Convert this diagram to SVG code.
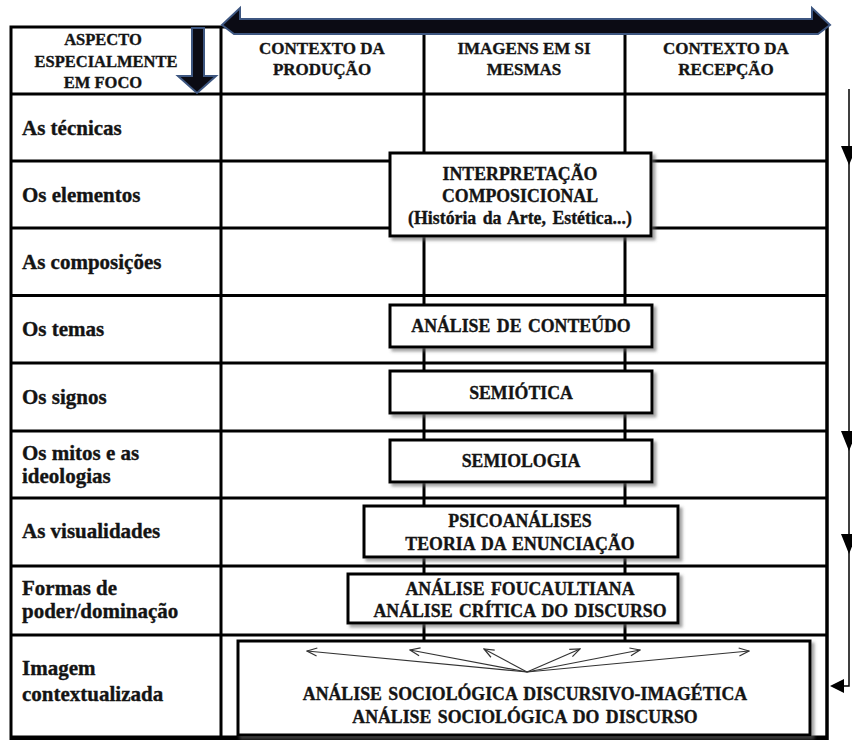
<svg xmlns="http://www.w3.org/2000/svg" width="852" height="740" viewBox="0 0 852 740">
<style>
text{font-family:"Liberation Serif","Times New Roman",serif;font-weight:bold;fill:#141414;stroke:#141414;stroke-width:0.35}
.hd{font-size:16.5px;text-anchor:middle}
.ch{font-size:17px;text-anchor:middle}
.rl{font-size:21px}
.bx{font-size:17.8px;text-anchor:middle;word-spacing:2px}
.grid{stroke:#000;stroke-width:3;fill:none}
.box{fill:#fff;stroke:#000;stroke-width:3;filter:url(#sh)}
.bigarrow{fill:#0b0b14;stroke:#3d5680;stroke-width:2;stroke-linejoin:miter}
.thin{stroke:#333;stroke-width:1.2;fill:none;marker-end:url(#open)}
.side{stroke:#000;stroke-width:1.5;fill:none}
</style>
<defs>
<filter id="sh" x="-5%" y="-10%" width="115%" height="130%">
<feDropShadow dx="3" dy="3" stdDeviation="1.5" flood-color="#666" flood-opacity="0.6"/>
</filter>
<marker id="open" viewBox="0 0 12 10" refX="11" refY="5" markerWidth="12" markerHeight="10" markerUnits="userSpaceOnUse" orient="auto">
<path d="M1,1 L11,5 L1,9" fill="none" stroke="#333" stroke-width="1.2"/>
</marker>
</defs>
<rect x="0" y="0" width="852" height="740" fill="#fff"/>

<g id="table">
<rect x="11" y="27" width="816" height="712" fill="#fff" stroke="#000" stroke-width="3"/>
<line class="grid" x1="827" y1="27" x2="827" y2="740" stroke-width="5"/>
<g class="grid">
<line x1="221" y1="27" x2="221" y2="740"/>
<line x1="424" y1="27" x2="424" y2="740"/>
<line x1="625" y1="27" x2="625" y2="740"/>
<line x1="11" y1="94" x2="827" y2="94"/>
<line x1="11" y1="161" x2="827" y2="161"/>
<line x1="11" y1="228" x2="827" y2="228"/>
<line x1="11" y1="295.5" x2="827" y2="295.5"/>
<line x1="11" y1="363" x2="827" y2="363"/>
<line x1="11" y1="431" x2="827" y2="431"/>
<line x1="11" y1="498" x2="827" y2="498"/>
<line x1="11" y1="566" x2="827" y2="566"/>
<line x1="11" y1="635" x2="827" y2="635"/>
<line x1="11" y1="737" x2="827" y2="737"/>
</g>
</g>

<g id="header">
<text class="hd" x="103" y="45">ASPECTO</text>
<text class="hd" x="106" y="67">ESPECIALMENTE</text>
<text class="hd" x="103" y="88">EM FOCO</text>
<text class="ch" x="322" y="54">CONTEXTO DA</text>
<text class="ch" x="322" y="75">PRODUÇÃO</text>
<text class="ch" x="524" y="54">IMAGENS EM SI</text>
<text class="ch" x="524" y="75">MESMAS</text>
<text class="ch" x="726" y="54">CONTEXTO DA</text>
<text class="ch" x="726" y="75">RECEPÇÃO</text>
</g>

<g id="row-labels">
<text class="rl" x="22" y="135">As técnicas</text>
<text class="rl" x="22" y="202">Os elementos</text>
<text class="rl" x="22" y="269">As composições</text>
<text class="rl" x="22" y="336">Os temas</text>
<text class="rl" x="22" y="404">Os signos</text>
<text class="rl" x="22" y="460">Os mitos e as</text>
<text class="rl" x="22" y="483">ideologias</text>
<text class="rl" x="22" y="538">As visualidades</text>
<text class="rl" x="22" y="595">Formas de</text>
<text class="rl" x="22" y="618">poder/dominação</text>
<text class="rl" x="22" y="675">Imagem</text>
<text class="rl" x="22" y="701">contextualizada</text>
</g>

<g id="arrow-top">
<polygon class="bigarrow" points="222,25 240,8 240,19 812,19 812,8 830,25 818,34 234,34"/>
</g>
<g id="arrow-left">
<polygon class="bigarrow" points="192,28 204,28 204,76 216,76 197,93 178,76 192,76"/>
</g>

<g id="n-interpretacao">
<rect class="box" x="390" y="153" width="261" height="83"/>
<text class="bx" x="520" y="180">INTERPRETAÇÃO</text>
<text class="bx" x="520" y="202">COMPOSICIONAL</text>
<text class="bx" x="520" y="224">(História da Arte, Estética...)</text>
</g>
<g id="n-conteudo">
<rect class="box" x="390" y="305" width="262" height="42"/>
<text class="bx" x="521" y="332">ANÁLISE DE CONTEÚDO</text>
</g>
<g id="n-semiotica">
<rect class="box" x="390" y="371" width="262" height="42"/>
<text class="bx" x="521" y="399">SEMIÓTICA</text>
</g>
<g id="n-semiologia">
<rect class="box" x="390" y="440" width="262" height="42"/>
<text class="bx" x="521" y="467">SEMIOLOGIA</text>
</g>
<g id="n-psico">
<rect class="box" x="364" y="506" width="314" height="51"/>
<text class="bx" x="520" y="527">PSICOANÁLISES</text>
<text class="bx" x="520" y="550">TEORIA DA ENUNCIAÇÃO</text>
</g>
<g id="n-foucault">
<rect class="box" x="348" y="574" width="330" height="49"/>
<text class="bx" x="520" y="595">ANÁLISE FOUCAULTIANA</text>
<text class="bx" x="520" y="617">ANÁLISE CRÍTICA DO DISCURSO</text>
</g>
<g id="n-sociologica">
<rect class="box" x="238" y="641" width="572" height="94"/>
<text class="bx" x="525" y="700">ANÁLISE SOCIOLÓGICA DISCURSIVO-IMAGÉTICA</text>
<text class="bx" x="525" y="723">ANÁLISE SOCIOLÓGICA DO DISCURSO</text>
</g>

<g id="connectors">
<path class="thin" d="M527,672 L307,651"/>
<path class="thin" d="M527,672 L410,650"/>
<path class="thin" d="M527,672 L484,649"/>
<path class="thin" d="M527,672 L580,649"/>
<path class="thin" d="M527,672 L640,650"/>
<path class="thin" d="M527,672 L749,651"/>
<path class="side" d="M849,89 L849,686 L840,686"/>
<polygon points="841,146 857,146 849,165" fill="#000"/>
<polygon points="841,431 857,431 849,451" fill="#000"/>
<polygon points="841,534 857,534 849,554" fill="#000"/>
<polygon points="830,686 844,679 844,693" fill="#000"/>
</g>
</svg>
